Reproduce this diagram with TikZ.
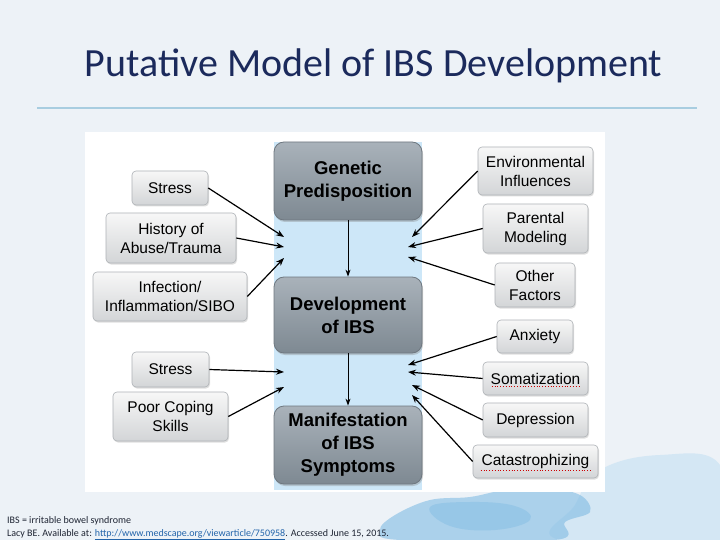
\documentclass[tikz,border=0pt]{standalone}
\usepackage{fontspec}
\setmainfont{Carlito}
\newfontfamily\boxfont{Liberation Sans}
\usetikzlibrary{positioning, arrows.meta, shadows}
\definecolor{SlideBg}{HTML}{EDF2F7}
\definecolor{TitleNavy}{HTML}{1B2A5C}
\definecolor{NoteInk}{HTML}{1E2433}
\definecolor{RuleBlue}{HTML}{A8CDE0}
\definecolor{ColumnBlue}{HTML}{CDE7F8}
\definecolor{CoreTop}{HTML}{A9B2BA}
\definecolor{CoreBot}{HTML}{7E8992}
\definecolor{CoreLine}{HTML}{6F7880}
\definecolor{SideTop}{HTML}{F7F7F7}
\definecolor{SideBot}{HTML}{D3D5D7}
\definecolor{SideLine}{HTML}{AEB2B6}
\definecolor{LinkBlue}{HTML}{2364AA}
\definecolor{WashDark}{HTML}{7FBBE3}
\definecolor{WashLight}{HTML}{C4E0F3}

\tikzset{
    corebox/.style={draw=CoreLine, line width=0.8pt, rounded corners=10pt,
        top color=CoreTop, bottom color=CoreBot, align=center,
        font=\boxfont\bfseries\fontsize{18.5}{23}\selectfont,
        minimum width=148pt, inner sep=0pt,
        drop shadow={shadow xshift=1pt, shadow yshift=-2pt, opacity=0.35}},
    sidebox/.style={draw=SideLine, line width=0.6pt, rounded corners=4pt,
        top color=SideTop, bottom color=SideBot, align=center,
        font=\boxfont\fontsize{15.5}{19}\selectfont, inner sep=0pt,
        drop shadow={shadow xshift=1pt, shadow yshift=-1.5pt, opacity=0.25}},
    feeds/.style={-{Stealth[length=8pt, width=6pt]}, line width=1.2pt, black},
    spellmark/.style={red!80!black, dotted, line width=0.8pt},
    footnote/.style={anchor=base west, font=\fontsize{10}{12}\selectfont, text=NoteInk, inner sep=0pt}
}

\begin{document}
\begin{tikzpicture}[x=1pt, y=-1pt]
    % Slide background
    \fill[SlideBg] (0,0) rectangle (720,540);
    \useasboundingbox (0,0) rectangle (720,540);

    % Watercolour wash, bottom right
    \fill[WashLight, opacity=0.6] plot[smooth cycle, tension=0.7] coordinates
        {(600,470) (660,455) (720,465) (720,540) (560,540) (575,505)};
    \fill[WashDark, opacity=0.6] plot[smooth cycle, tension=0.6] coordinates
        {(395,515) (430,500) (470,497) (505,490) (545,488) (580,495) (590,512) (565,522) (555,540) (400,540) (380,530)};
    \fill[WashDark, opacity=0.45] plot[smooth cycle, tension=0.7] coordinates
        {(430,507) (470,502) (515,506) (530,520) (495,530) (450,526)};

    % Title
    \node[font=\fontsize{40}{48}\selectfont, text=TitleNavy, anchor=base] (title) at (373.5,77) {Putative Model of IBS Development};
    \draw[RuleBlue, line width=1.5pt] (37,108) -- (697,108);

    % Figure panel and centre column
    \fill[white] (85,132) rectangle (605,492);
    \fill[ColumnBlue] (274,142) rectangle (422,490);

    % Core stages
    \node[corebox, minimum height=78pt] (genetic) at (348,181) {Genetic\\Predisposition};
    \node[corebox, minimum height=76pt] (develop) at (348,315) {Development\\of IBS};
    \node[corebox, minimum height=78pt] (symptoms) at (348,445) {Manifestation\\of IBS\\Symptoms};

    \draw[-{Stealth[length=7pt, width=5pt]}, line width=0.9pt] (genetic) -- (develop);
    \draw[-{Stealth[length=7pt, width=5pt]}, line width=0.9pt] (develop) -- (symptoms);

    % Left-hand factors
    \node[sidebox, minimum width=76pt, minimum height=34pt] (stressA) at (170,188) {Stress};
    \node[sidebox, minimum width=130pt, minimum height=50pt] (abuse) at (171,238) {History of\\Abuse/Trauma};
    \node[sidebox, minimum width=154pt, minimum height=49pt] (infection) at (170,296.5) {Infection/\\Inflammation/SIBO};
    \node[sidebox, minimum width=77pt, minimum height=35pt] (stressB) at (170.5,369.5) {Stress};
    \node[sidebox, minimum width=115pt, minimum height=49pt] (coping) at (170.5,416.5) {Poor Coping\\Skills};

    % Right-hand factors
    \node[sidebox, minimum width=115pt, minimum height=48pt] (environ) at (535.5,171) {Environmental\\Influences};
    \node[sidebox, minimum width=105pt, minimum height=49pt] (parental) at (535.5,228.5) {Parental\\Modeling};
    \node[sidebox, minimum width=80pt, minimum height=44pt] (other) at (535,285) {Other\\Factors};
    \node[sidebox, minimum width=76pt, minimum height=33pt] (anxiety) at (535,336.5) {Anxiety};
    \node[sidebox, minimum width=105pt, minimum height=33pt] (somat) at (535.5,378.5) {Somatization};
    \node[sidebox, minimum width=105pt, minimum height=34pt] (depress) at (535.5,420) {Depression};
    \node[sidebox, minimum width=125pt, minimum height=33pt] (catastro) at (535.5,461.5) {Catastrophizing};

    % Spell-check marks
    \draw[spellmark] ([xshift=9pt, yshift=9pt]somat.south west) -- ([xshift=-8pt, yshift=9pt]somat.south east);
    \draw[spellmark] ([xshift=8pt, yshift=8pt]catastro.south west) -- ([xshift=-8pt, yshift=8pt]catastro.south east);

    % Arrow targets in the column
    \coordinate (inL1) at (284,237);
    \coordinate (inL2) at (284,247);
    \coordinate (inL3) at (284,258);
    \coordinate (inL4) at (284,372);
    \coordinate (inL5) at (284,387);
    \coordinate (inR1) at (412,237);
    \coordinate (inR2) at (408,247);
    \coordinate (inR3) at (408,257);
    \coordinate (inR4) at (408,365);
    \coordinate (inR5) at (408,372);
    \coordinate (inR6) at (412,385);
    \coordinate (inR7) at (412,395);

    \draw[feeds] (stressA.east) -- (inL1);
    \draw[feeds] (abuse.east) -- (inL2);
    \draw[feeds] (infection.east) -- (inL3);
    \draw[feeds] (stressB.east) -- (inL4);
    \draw[feeds] (coping.east) -- (inL5);

    \draw[feeds] (environ.west) -- (inR1);
    \draw[feeds] (parental.west) -- (inR2);
    \draw[feeds] (other.west) -- (inR3);
    \draw[feeds] (anxiety.west) -- (inR4);
    \draw[feeds] (somat.west) -- (inR5);
    \draw[feeds] (depress.west) -- (inR6);
    \draw[feeds] (catastro.west) -- (inR7);

    % Footnotes
    \node[footnote] (abbrev) at (7,523) {IBS = irritable bowel syndrome};
    \node[footnote] (source) at (7,536)
        {Lacy BE. Available at: \textcolor{LinkBlue}{\underline{http://www.medscape.org/viewarticle/750958}}. Accessed June 15, 2015.};
\end{tikzpicture}
\end{document}
